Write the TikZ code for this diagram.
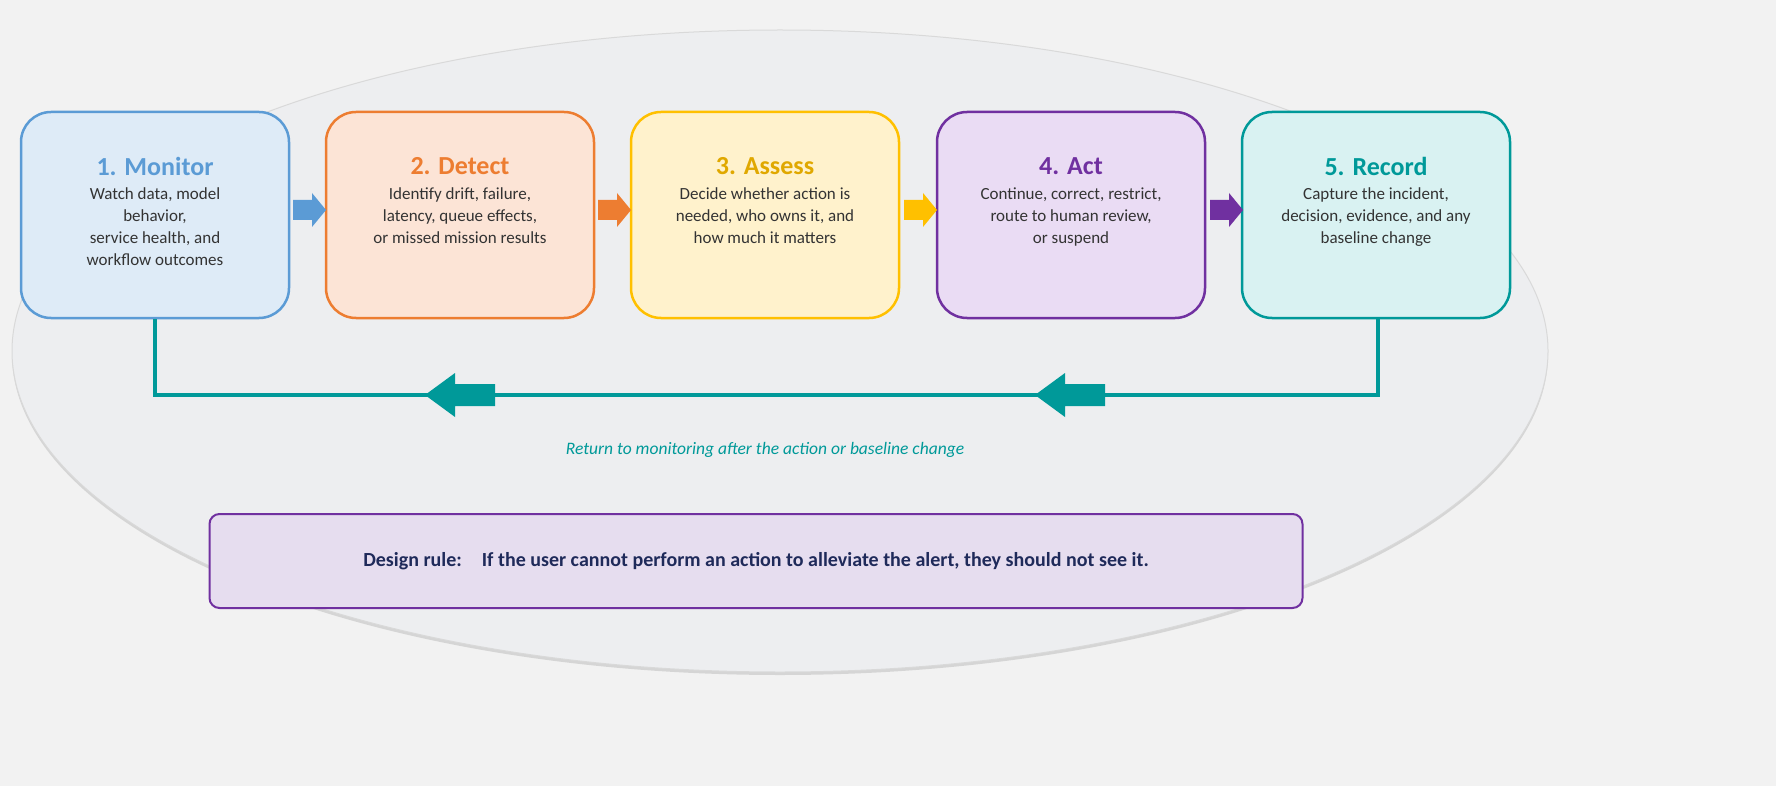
\documentclass[tikz,border=0pt]{standalone}
\usepackage{fontspec}
\setmainfont{Carlito}
\usetikzlibrary{shadows}
\definecolor{bg}{HTML}{F2F2F2}
\definecolor{ell}{HTML}{EDEEF0}
\definecolor{cA}{HTML}{5B9BD5}\definecolor{fA}{HTML}{DEEBF7}
\definecolor{cB}{HTML}{ED7D31}\definecolor{fB}{HTML}{FCE4D6}
\definecolor{cC}{HTML}{FFC000}\definecolor{fC}{HTML}{FFF2CC}\definecolor{tC}{HTML}{E0A800}
\definecolor{cD}{HTML}{7030A0}\definecolor{fD}{HTML}{EADCF4}
\definecolor{cE}{HTML}{009999}\definecolor{fE}{HTML}{D9F2F2}
\definecolor{body}{HTML}{333333}
\definecolor{navy}{HTML}{1F2A5A}
\definecolor{rulef}{HTML}{E6DDEF}
\begin{document}
\begin{tikzpicture}[x=1pt,y=-1pt,
  step/.style={draw=#1,line width=2.5pt,rounded corners=30pt,minimum width=268pt,minimum height=206pt,inner sep=0pt},
  ttl/.style={font=\bfseries\fontsize{26}{30}\selectfont,text=#1},
  bdy/.style={font=\fontsize{17}{22}\selectfont,text=body,align=center}]
\useasboundingbox (0,0) rectangle (1776,786);
\fill[bg] (0,0) rectangle (1776,786);
\draw[draw=black!15,fill=ell,line width=1pt,drop shadow={shadow xshift=0pt,shadow yshift=-3pt,opacity=0.25}] (780,351) ellipse [x radius=768,y radius=321];
% boxes
\foreach \n/\x/\c/\f in {a/155/cA/fA,b/460/cB/fB,c/765/cC/fC,d/1071/cD/fD,e/1376/cE/fE}{
  \node[step=\c,fill=\f] (\n) at (\x,215) {};}
\node[ttl=cA] (ta) at (155,166) {1. Monitor};
\node[ttl=cB] (tb) at (460,166) {2. Detect};
\node[ttl=tC] (tc) at (765,166) {3. Assess};
\node[ttl=cD] (td) at (1071,166) {4. Act};
\node[ttl=cE] (te) at (1376,166) {5. Record};
\node[bdy,anchor=north] (ba) at (155,184) {Watch data, model\\behavior,\\service health, and\\workflow outcomes};
\node[bdy,anchor=north] (bb) at (460,184) {Identify drift, failure,\\latency, queue effects,\\or missed mission results};
\node[bdy,anchor=north] (bc) at (765,184) {Decide whether action is\\needed, who owns it, and\\how much it matters};
\node[bdy,anchor=north] (bd) at (1071,184) {Continue, correct, restrict,\\route to human review,\\or suspend};
\node[bdy,anchor=north] (be) at (1376,184) {Capture the incident,\\decision, evidence, and any\\baseline change};
% small arrows
\foreach \x/\c in {293/cA,598/cB,904/cC,1210/cD}{
  \fill[\c] (\x,200) -- (\x+19,200) -- (\x+19,193) -- (\x+33,210) -- (\x+19,227) -- (\x+19,220) -- (\x,220) -- cycle;}
% feedback loop
\coordinate (c1) at (1378,395);
\coordinate (c2) at (155,395);
\draw[cE,line width=4pt] (e.south -| 1378,0) -- (c1) -- (c2) -- (a.south);
\foreach \x in {425,1035}{
  \fill[cE] (\x,395) -- (\x+30,373) -- (\x+30,384) -- (\x+70,384) -- (\x+70,406) -- (\x+30,406) -- (\x+30,417) -- cycle;}
\node[font=\itshape\fontsize{17.5}{20}\selectfont,text=cE] (ret) at (765,450) {Return to monitoring after the action or baseline change};
\node[draw=cD,line width=2pt,fill=rulef,rounded corners=10pt,minimum width=1093pt,minimum height=94pt,font=\bfseries\fontsize{20}{24}\selectfont,text=navy] (rule) at (756,561) {Design rule:\quad If the user cannot perform an action to alleviate the alert, they should not see it.};
\end{tikzpicture}
\end{document}
